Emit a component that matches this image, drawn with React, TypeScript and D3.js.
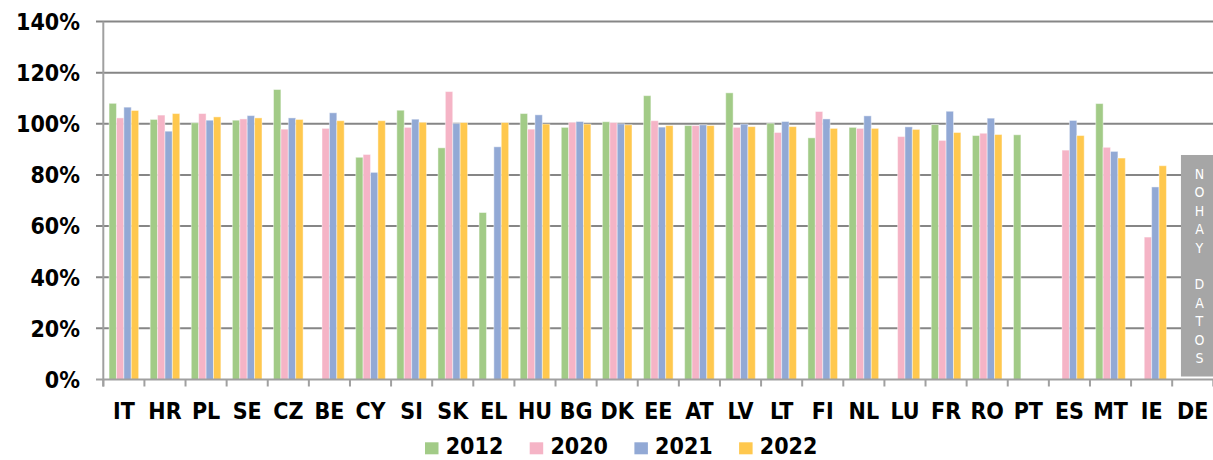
import React from "react";
import * as d3 from "d3";

// Countries in chart order
const countries = [
  "IT", "HR", "PL", "SE", "CZ", "BE", "CY", "SI", "SK", "EL", "HU", "BG", "DK", "EE",
  "AT", "LV", "LT", "FI", "NL", "LU", "FR", "RO", "PT", "ES", "MT", "IE", "DE",
];

const years = ["2012", "2020", "2021", "2022"];

// values in % (null = no bar)
const v2012 = [108.0, 101.7, 100.4, 101.4, 113.4, null, 86.9, 105.3, 90.6, 65.3, 104.0, 98.6, 100.8, 111.0,
  99.3, 112.1, 100.2, 94.5, 98.6, null, 99.7, 95.4, 95.7, null, 107.9, null, null];
const v2020 = [102.3, 103.4, 104.0, 101.9, 97.9, 98.2, 88.0, 98.6, 112.6, null, 97.9, 100.6, 100.5, 101.2,
  99.3, 98.6, 96.6, 104.8, 98.2, 95.0, 93.5, 96.3, null, 89.7, 90.8, 55.7, null];
const v2021 = [106.5, 97.1, 101.4, 103.2, 102.3, 104.3, 81.0, 101.8, 100.1, 91.0, 103.5, 100.9, 100.0, 98.7,
  99.6, 99.9, 100.9, 101.9, 103.1, 98.8, 104.9, 102.2, null, 101.3, 89.2, 75.3, null];
const v2022 = [105.2, 104.0, 102.7, 102.3, 101.7, 101.2, 101.2, 100.6, 100.5, 100.5, 99.9, 99.9, 99.6, 99.3,
  99.3, 98.9, 98.9, 98.2, 98.2, 97.8, 96.6, 95.8, null, 95.4, 86.6, 83.6, null];

const yTicks = [0, 20, 40, 60, 80, 100, 120, 140];

const noDataCountry = "DE";
const noDataTop = 87.8; // height of the grey "no data" box, in %
const noDataText = ["N", "O", "H", "A", "Y", "", "D", "A", "T", "O", "S"];

const series = [v2012, v2020, v2021, v2022];
const colors = ["#A2CB87", "#F5B4C6", "#92A9D5", "#FFC84E"];

const W = 1213;
const H = 460;
const margin = { top: 21.5, right: -0.3, bottom: 80.5, left: 103.3 };
const font = "'DejaVu Sans Condensed', 'DejaVu Sans', sans-serif";

export default function App() {
  const x0 = d3.scaleBand<string>()
    .domain(countries)
    .range([margin.left, W - margin.right])
    .paddingInner(0.28)
    .paddingOuter(0.14);

  const x1 = d3.scaleBand<string>()
    .domain(years)
    .range([0, x0.bandwidth()]);

  const y = d3.scaleLinear()
    .domain([0, 140])
    .range([H - margin.bottom, margin.top]);

  const step = x0.step();
  const boundaries = countries.map((c) => (x0(c) as number) - step * 0.14).concat([W - margin.right]);

  const deX = (x0(noDataCountry) as number) + 3;

  return (
    <div style={{ position: "absolute", left: 0, top: 0 }}>
      <svg width={W} height={H} style={{ display: "block", fontFamily: font }}>
        <rect width={W} height={H} fill="#fff" />

        {/* gridlines */}
        {yTicks.filter((t) => t > 0).map((t) => (
          <line key={t} x1={96} x2={W} y1={y(t)} y2={y(t)} stroke="#868686" strokeWidth={2} />
        ))}

        {/* bars */}
        {series.map((vals, si) =>
          vals.map((v, i) =>
            v == null ? null : (
              <rect
                key={`${si}-${i}`}
                x={(x0(countries[i]) as number) + (x1(years[si]) as number)}
                y={y(v)}
                width={x1.bandwidth()}
                height={y(0) - y(v)}
                fill={colors[si]}
                stroke="#fff"
                strokeOpacity={0.45}
                strokeWidth={1}
              />
            )
          )
        )}

        {/* no data box */}
        <rect x={deX} y={y(noDataTop)} width={W - deX} height={y(0) - 3 - y(noDataTop)} fill="#A6A6A6" />
        {noDataText.map((ch, i) => (
          <text
            key={i}
            x={deX + 18.5}
            y={y(noDataTop) + 24 + i * 18.4}
            textAnchor="middle"
            fontSize={14}
            fill="#fff"
          >
            {ch}
          </text>
        ))}

        {/* axes */}
        <line x1={margin.left} x2={margin.left} y1={y(140)} y2={y(0) + 7} stroke="#A0A0A0" strokeWidth={2} />
        <line x1={96} x2={W} y1={y(0)} y2={y(0)} stroke="#A0A0A0" strokeWidth={2} />
        {boundaries.map((b, i) => (
          <line key={i} x1={b} x2={b} y1={y(0)} y2={y(0) + 7} stroke="#A0A0A0" strokeWidth={2} />
        ))}

        {/* y tick labels */}
        {yTicks.map((t) => (
          <text key={t} x={80} y={y(t) + 8.3} textAnchor="end" fontSize={23} fontWeight="bold" fill="#000">
            {`${t}%`}
          </text>
        ))}

        {/* x labels */}
        {countries.map((c) => (
          <text
            key={c}
            x={(x0(c) as number) + x0.bandwidth() / 2}
            y={419.3}
            textAnchor="middle"
            fontSize={23}
            fontWeight="bold"
            fill="#000"
          >
            {c}
          </text>
        ))}

        {/* legend */}
        {years.map((yr, i) => (
          <g key={yr} transform={`translate(${425 + i * 104.7},0)`}>
            <rect x={0} y={442.3} width={13.5} height={12} fill={colors[i]} />
            <text x={20.7} y={454.3} fontSize={23} fontWeight="bold" fill="#000">
              {yr}
            </text>
          </g>
        ))}
      </svg>
    </div>
  );
}
